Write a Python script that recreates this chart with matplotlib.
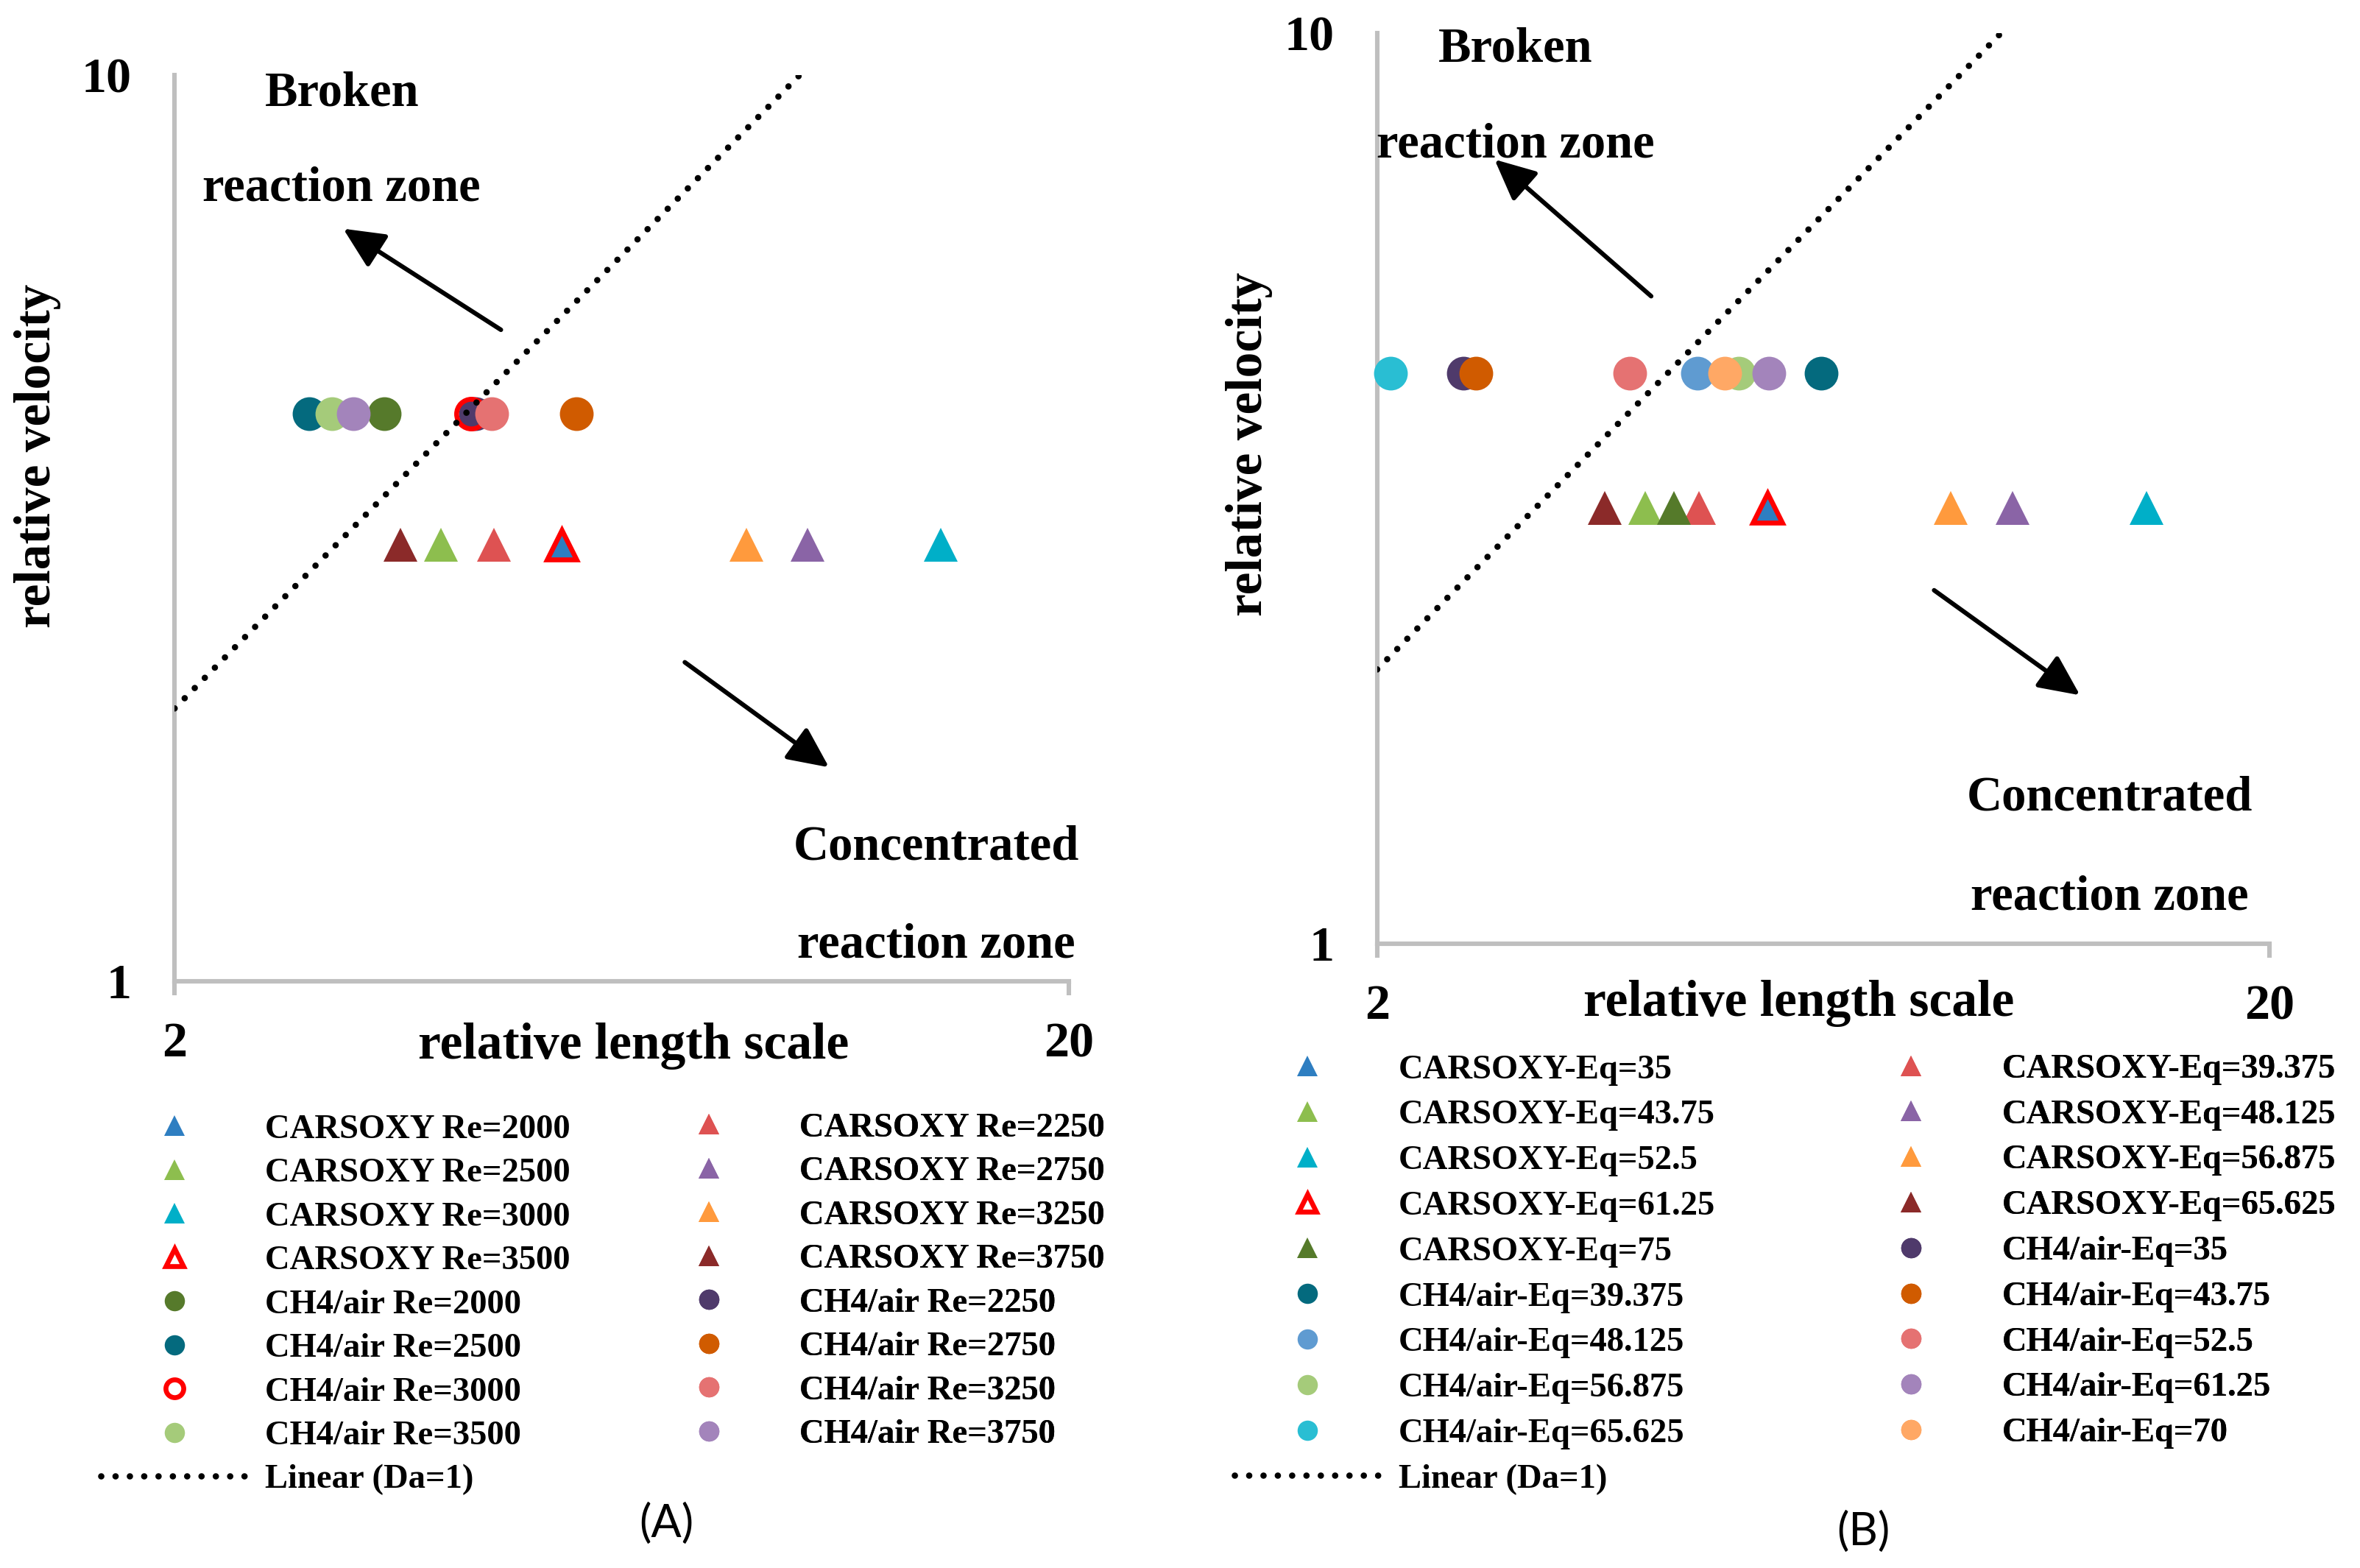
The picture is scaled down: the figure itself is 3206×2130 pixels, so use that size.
import matplotlib
matplotlib.use("Agg")
import matplotlib.pyplot as plt
from matplotlib.font_manager import FontProperties
from matplotlib.ticker import NullLocator, FixedLocator, FixedFormatter

# ---------------- data ----------------
# Panel A : Reynolds number series
a_carsoxy_labels = ['CARSOXY Re=2000', 'CARSOXY Re=2250', 'CARSOXY Re=2500', 'CARSOXY Re=2750',
                    'CARSOXY Re=3000', 'CARSOXY Re=3250', 'CARSOXY Re=3500', 'CARSOXY Re=3750']
a_carsoxy_len = [5.42, 4.55, 3.97, 10.2, 14.4, 8.73, 5.42, 3.58]
a_carsoxy_vel = [3.03, 3.03, 3.03, 3.03, 3.03, 3.03, 3.03, 3.03]
a_carsoxy_colors = ['#2E7EC1', '#DE5252', '#8DBE4E', '#8A64A6', '#00AFC8', '#FF9A3D', 'open', '#8B2A29']

a_ch4_labels = ['CH4/air Re=2000', 'CH4/air Re=2250', 'CH4/air Re=2500', 'CH4/air Re=2750',
                'CH4/air Re=3000', 'CH4/air Re=3250', 'CH4/air Re=3500', 'CH4/air Re=3750']
a_ch4_len = [3.43, 4.34, 2.83, 5.63, 4.29, 4.53, 3.00, 3.17]
a_ch4_vel = [4.23, 4.23, 4.23, 4.23, 4.23, 4.23, 4.23, 4.23]
a_ch4_colors = ['#567A2B', '#4F3A6B', '#046A7E', '#D05B00', 'open', '#E57272', '#A5CB7A', '#A384BB']

# Panel B : equivalence series
b_carsoxy_labels = ['CARSOXY-Eq=35', 'CARSOXY-Eq=39.375', 'CARSOXY-Eq=43.75', 'CARSOXY-Eq=48.125',
                    'CARSOXY-Eq=52.5', 'CARSOXY-Eq=56.875', 'CARSOXY-Eq=61.25', 'CARSOXY-Eq=65.625',
                    'CARSOXY-Eq=75']
b_carsoxy_len = [5.47, 4.59, 3.99, 10.3, 14.55, 8.78, 5.47, 3.60, 4.30]
b_carsoxy_vel = [3.01, 3.01, 3.01, 3.01, 3.01, 3.01, 3.01, 3.01, 3.01]
b_carsoxy_colors = ['#2E7EC1', '#DE5252', '#8DBE4E', '#8A64A6', '#00AFC8', '#FF9A3D', 'open', '#8B2A29',
                    '#557A2A']

b_ch4_labels = ['CH4/air-Eq=35', 'CH4/air-Eq=39.375', 'CH4/air-Eq=43.75', 'CH4/air-Eq=48.125',
                'CH4/air-Eq=52.5', 'CH4/air-Eq=56.875', 'CH4/air-Eq=61.25', 'CH4/air-Eq=65.625',
                'CH4/air-Eq=70']
b_ch4_len = [2.50, 6.29, 2.58, 4.57, 3.84, 5.08, 5.49, 2.07, 4.90]
b_ch4_vel = [4.23, 4.23, 4.23, 4.23, 4.23, 4.23, 4.23, 4.23, 4.23]
b_ch4_colors = ['#4F3A6B', '#046A7E', '#D05B00', '#5F9BD1', '#E57272', '#A5CB7A', '#A384BB', '#29BED3',
                '#FFA865']

# Da = 1 line
da_x = [2, 10]
da_y = [2, 10]
da_label = 'Linear (Da=1)'

x_ticks = [2, 20]
y_ticks = [1, 10]

# ---------------- styling ----------------
SERIF = 'Liberation Serif'
W, H = 1568.0, 1042.0  # reference layout units


def fx(x):
    return x / W


def fy(y):
    return 1 - y / H


fig = plt.figure(figsize=(3206 / 200, 2130 / 200), dpi=200)
fig.patch.set_facecolor('white')

MS = 16.5
SPINE = '#BFBFBF'
LEG_FS = 16.8
leg_prop = FontProperties(family=SERIF, weight='bold', size=LEG_FS)
DOT_STYLE = dict(color='black', lw=3.1, linestyle=(0, (0.01, 2.25)), dash_capstyle='round')


def draw_series(ax, xs, ys, colors, labels, marker, zstart):
    handles = []
    for i, (x, y, c, lab) in enumerate(zip(xs, ys, colors, labels)):
        if c == 'open':
            h, = ax.plot([x], [y], linestyle='none', marker=marker, markersize=MS - 2,
                         markerfacecolor='none', markeredgecolor='#FF0000', markeredgewidth=2.4,
                         label=lab, zorder=zstart + i, clip_on=False)
        else:
            h, = ax.plot([x], [y], linestyle='none', marker=marker, markersize=MS,
                         markerfacecolor=c, markeredgewidth=0, label=lab,
                         zorder=zstart + i, clip_on=False)
        handles.append(h)
    return handles


def setup_axes(ax):
    ax.set_xscale('log')
    ax.set_yscale('log')
    ax.set_xlim(2, 20)
    ax.set_ylim(1, 10)
    ax.xaxis.set_major_locator(FixedLocator(x_ticks))
    ax.xaxis.set_major_formatter(FixedFormatter([str(t) for t in x_ticks]))
    ax.yaxis.set_major_locator(FixedLocator(y_ticks))
    ax.yaxis.set_major_formatter(FixedFormatter([str(t) for t in y_ticks]))
    ax.xaxis.set_minor_locator(NullLocator())
    ax.yaxis.set_minor_locator(NullLocator())
    for s in ['top', 'right']:
        ax.spines[s].set_visible(False)
    for s in ['left', 'bottom']:
        ax.spines[s].set_color(SPINE)
        ax.spines[s].set_linewidth(2.2)
    ax.tick_params(axis='x', length=7, width=2.2, color=SPINE, direction='out', pad=13,
                   labelsize=24.5)
    ax.tick_params(axis='y', length=0, pad=21, labelsize=24.5)
    for lab in ax.get_xticklabels() + ax.get_yticklabels():
        lab.set_fontfamily(SERIF)
        lab.set_fontweight('bold')
    ax.set_facecolor('none')


def text(ax, x, y, s, size=24):
    ax.text(x, y, s, transform=ax.transAxes, ha='center', va='center', fontsize=size,
            fontweight='bold', family=SERIF)


def arrow(ax, tail, head):
    ax.annotate('', xy=head, xytext=tail, xycoords='axes fraction', textcoords='axes fraction',
                arrowprops=dict(arrowstyle='-|>,head_length=0.85,head_width=0.4',
                                mutation_scale=20, lw=2.2, color='black', shrinkA=0, shrinkB=0))


def make_legends(ax, handles, col_x, centers, spacing):
    col1 = handles[0::2]
    col2 = handles[1::2]
    for hs, x, yc in zip([col1, col2], col_x, centers):
        leg = ax.legend(handles=hs, labels=[h.get_label() for h in hs], loc='center left',
                        bbox_to_anchor=(fx(x), fy(yc)), bbox_transform=fig.transFigure,
                        frameon=False, prop=leg_prop, markerscale=0.6, numpoints=1,
                        handlelength=4.28, handletextpad=0.5, labelspacing=spacing,
                        borderpad=0, borderaxespad=0)
        ax.add_artist(leg)


# ---------------- panel A ----------------
axA = fig.add_axes([fx(116), fy(652), fx(594), 602 / H])
setup_axes(axA)
hA_c = draw_series(axA, a_carsoxy_len, a_carsoxy_vel, a_carsoxy_colors, a_carsoxy_labels, '^', 3)
hA_m = draw_series(axA, a_ch4_len, a_ch4_vel, a_ch4_colors, a_ch4_labels, 'o', 20)
hA_l, = axA.plot(da_x, da_y, label=da_label, zorder=40, **DOT_STYLE)
axA.set_xlabel('relative length scale', fontsize=25, fontweight='bold', family=SERIF)
axA.xaxis.set_label_coords((421 - 116) / 594, (652 - 695) / 602)
axA.xaxis.label.set_va('center')
axA.set_ylabel('relative velocity', fontsize=25, fontweight='bold', family=SERIF)
axA.yaxis.set_label_coords((25 - 116) / 594, (652 - 303) / 602)
axA.yaxis.label.set_va('center')
text(axA, 0.187, 0.980, 'Broken')
text(axA, 0.187, 0.875, 'reaction zone')
text(axA, 0.852, 0.148, 'Concentrated')
text(axA, 0.852, 0.040, 'reaction zone')
arrow(axA, (0.365, 0.719), (0.1886, 0.8306))
arrow(axA, (0.5707, 0.352), (0.732, 0.236))
make_legends(axA, hA_c + hA_m + [hA_l], [67, 422], [867, 851.5], 0.36)
fig.text(fx(443), fy(1013), '(A)', ha='center', va='center', fontsize=22, family='Lato')

# ---------------- panel B ----------------
axB = fig.add_axes([fx(915), fy(627), fx(593), 605 / H])
setup_axes(axB)
hB_c = draw_series(axB, b_carsoxy_len, b_carsoxy_vel, b_carsoxy_colors, b_carsoxy_labels, '^', 3)
hB_m = draw_series(axB, b_ch4_len, b_ch4_vel, b_ch4_colors, b_ch4_labels, 'o', 20)
hB_l, = axB.plot(da_x, da_y, label=da_label, zorder=40, **DOT_STYLE)
axB.set_xlabel('relative length scale', fontsize=25, fontweight='bold', family=SERIF)
axB.xaxis.set_label_coords((1195 - 915) / 593, (627 - 667) / 605)
axB.xaxis.label.set_va('center')
axB.set_ylabel('relative velocity', fontsize=25, fontweight='bold', family=SERIF)
axB.yaxis.set_label_coords((830 - 915) / 593, (627 - 295) / 605)
axB.yaxis.label.set_va('center')
text(axB, 0.155, 0.982, 'Broken')
text(axB, 0.155, 0.877, 'reaction zone')
text(axB, 0.821, 0.160, 'Concentrated')
text(axB, 0.821, 0.051, 'reaction zone')
arrow(axB, (0.307, 0.711), (0.1315, 0.8612))
arrow(axB, (0.624, 0.388), (0.7875, 0.2727))
make_legends(axB, hB_c + hB_m + [hB_l], [820, 1221], [847, 831.5], 0.41)
fig.text(fx(1238), fy(1018), '(B)', ha='center', va='center', fontsize=22, family='Lato')

fig.savefig('out.png', dpi=200, facecolor='white')
